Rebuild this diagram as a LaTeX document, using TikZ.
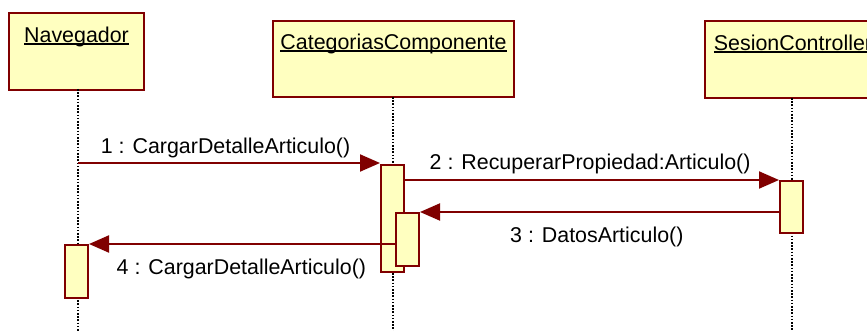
\documentclass[tikz,border=0pt]{standalone}
\usepackage{fontspec}
\setmainfont{Liberation Sans}
\usetikzlibrary{arrows.meta}
\definecolor{umlred}{HTML}{800000}
\definecolor{umlfill}{HTML}{FFFFC0}
% underlined object name with a rule of fixed thickness
\newcommand\objname[1]{\setbox0\hbox{#1}\rlap{\rule[-2.5pt]{\wd0}{1.5pt}}\box0}
\tikzset{
  objbox/.style={draw=umlred, fill=umlfill, line width=2pt, rectangle, inner sep=0pt},
  actbox/.style={draw=umlred, fill=umlfill, line width=2pt, rectangle, inner sep=0pt,
                 minimum width=23pt, anchor=north west},
  lifeline/.style={black, line width=1.5pt, dash pattern=on 1.6pt off 1.6pt},
  msg/.style={umlred, line width=2pt, -{Triangle[length=20pt,width=17pt]}},
  msgtext/.style={font=\fontsize{21.4}{24}\selectfont, text=black, inner sep=0pt, anchor=base west},
  objtext/.style={font=\fontsize{21.4}{24}\selectfont, text=black, inner sep=0pt, anchor=base},
}
\begin{document}
\begin{tikzpicture}[x=1pt, y=-1pt]
\useasboundingbox (0,0) rectangle (867,331);
\clip (0,0) rectangle (867,331);
\fill[white] (0,0) rectangle (867,331);

% objects
\node[objbox, minimum width=135pt, minimum height=77pt, anchor=north west] (nav) at (8,12) {};
\node[objbox, minimum width=241pt, minimum height=76pt, anchor=north west] (cat) at (272,20) {};
\node[objbox, minimum width=176pt, minimum height=77pt, anchor=north west] (ses) at (704,20) {};
\node[objtext] (navname) at ([yshift=-30.5pt]nav.north) {\objname{Navegador}};
\node[objtext] (catname) at ([yshift=-29.5pt]cat.north) {\objname{CategoriasComponente}};
\node[objtext] (sesname) at ([yshift=-30.5pt]ses.north) {\objname{SesionController}};

% lifelines
\coordinate (navtop) at (78,89);   \coordinate (navbot) at (78,331);
\coordinate (cattop) at (393,97);  \coordinate (catbot) at (393,331);
\coordinate (sestop) at (792,98);  \coordinate (sesbot) at (792,331);
\draw[lifeline] (navtop) -- (navbot);
\draw[lifeline] (cattop) -- (catbot);
\draw[lifeline] (sestop) -- (sesbot);

% activations
\node[actbox, minimum height=107pt] (cact) at (380,164) {};
\node[actbox, minimum height=53pt] (cin) at (395,212) {};
\node[actbox, minimum height=52pt] (sact) at (779,180) {};
\node[actbox, minimum height=53pt] (nact) at (64,244) {};

% messages
\coordinate (m1s) at (78,163);
\draw[msg] (m1s) -- (cact.west |- m1s);
\draw[msg] (cact.east |- sact.north) -- (sact.west |- sact.north);
\draw[msg] (sact.west |- cin.north) -- (cin.east |- cin.north);
\draw[msg] (cin.west |- nact.north) -- (nact.east |- nact.north);

% message labels
\node[msgtext] (l1) at (100.7,154) {1 : CargarDetalleArticulo()};
\node[msgtext] (l2) at (429.5,170) {2 : RecuperarPropiedad:Articulo()};
\node[msgtext] (l3) at (510,242) {3 : DatosArticulo()};
\node[msgtext] (l4) at (116.5,274) {4 : CargarDetalleArticulo()};
\end{tikzpicture}
\end{document}
